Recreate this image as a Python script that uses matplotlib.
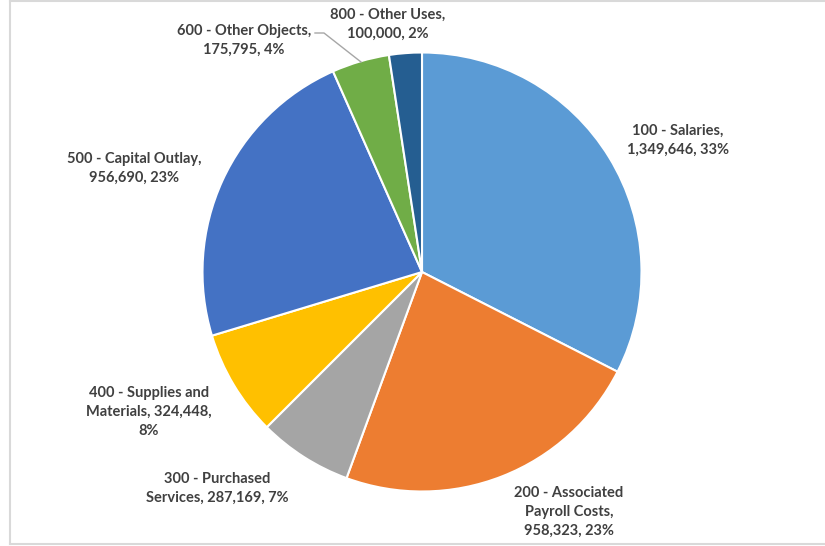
import matplotlib.pyplot as plt
from matplotlib.lines import Line2D

# 데이터
codes = ['100 - Salaries', '200 - Associated\nPayroll Costs', '300 - Purchased\nServices',
         '400 - Supplies and\nMaterials', '500 - Capital Outlay', '600 - Other Objects',
         '800 - Other Uses']
amounts = [1349646, 958323, 287169, 324448, 956690, 175795, 100000]
colors = ['#5B9BD5', '#ED7D31', '#A5A5A5', '#FFC000', '#4472C4', '#70AD47', '#255E91']

# 라벨 줄바꿈 방식 (엑셀 데이터 레이블처럼)
seps = [',\n', ',\n', ', ', ', ', ',\n', ',\n', ',\n']
tails = [', ', ', ', ', ', ',\n', ', ', ', ', ', ']
# 라벨 위치 (픽셀, 위에서부터)
label_pos = [(678, 140), (569, 512), (217, 488), (149, 412), (134, 168), (244, 40), (388, 24)]

W, H = 825, 546
cx, cy, r = 422, 272, 219.5

fig = plt.figure(figsize=(W / 100, H / 100), dpi=100)
ax = fig.add_axes([0, 0, 1, 1])
ax.set_xlim(0, W)
ax.set_ylim(0, H)
ax.axis('off')

ax.pie(amounts, colors=colors, startangle=90, counterclock=False,
       center=(cx, H - cy), radius=r,
       wedgeprops=dict(edgecolor='white', linewidth=1.5))
ax.set_xlim(0, W)
ax.set_ylim(0, H)
ax.set_aspect('auto')

total = sum(amounts)
for name, amt, sep, tail, (x, y) in zip(codes, amounts, seps, tails, label_pos):
    pct = round(amt / total * 100)
    txt = f"{name}{sep}{amt:,}{tail}{pct}%"
    ax.text(x, H - y, txt, ha='center', va='center', fontsize=10.5,
            fontweight='bold', family=['Lato', 'DejaVu Sans'], color='#404040',
            linespacing=1.45)

# 600 라벨 지시선
ax.add_line(Line2D([315, 324, 361], [H - 33, H - 33, H - 62], color='#A6A6A6', lw=1))

# 차트 테두리
ax.add_line(Line2D([9.5, 9.5], [H - 1, H - 544], color='#D9D9D9', lw=1.5))
ax.add_line(Line2D([9.5, W], [H - 1, H - 1], color='#D9D9D9', lw=1.5))
ax.add_line(Line2D([9.5, W], [H - 544, H - 544], color='#D9D9D9', lw=1.5))

fig.savefig('out.png', dpi=100)
